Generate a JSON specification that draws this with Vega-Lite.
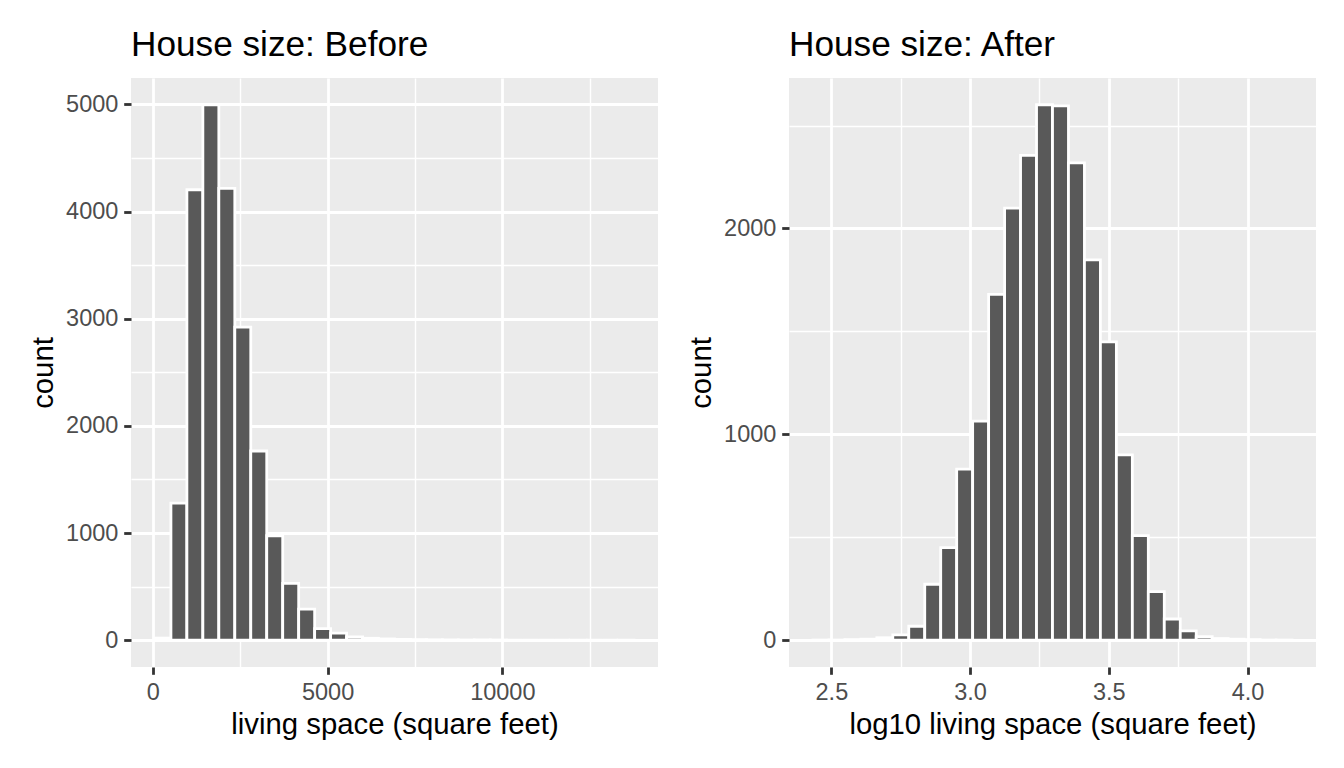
{
  "$schema": "https://vega.github.io/schema/vega-lite/v6.json",
  "background": "white",
  "padding": {"left": 29, "top": 27, "right": 5, "bottom": 5},
  "datasets": {
    "before": [
      {"bin_start": 61.55, "bin_end": 518.45, "count": 20},
      {"bin_start": 518.45, "bin_end": 975.34, "count": 1280},
      {"bin_start": 975.34, "bin_end": 1432.24, "count": 4204},
      {"bin_start": 1432.24, "bin_end": 1889.14, "count": 4997},
      {"bin_start": 1889.14, "bin_end": 2346.03, "count": 4216},
      {"bin_start": 2346.03, "bin_end": 2802.93, "count": 2922},
      {"bin_start": 2802.93, "bin_end": 3259.83, "count": 1766},
      {"bin_start": 3259.83, "bin_end": 3716.72, "count": 975},
      {"bin_start": 3716.72, "bin_end": 4173.62, "count": 530},
      {"bin_start": 4173.62, "bin_end": 4630.52, "count": 290},
      {"bin_start": 4630.52, "bin_end": 5087.41, "count": 108},
      {"bin_start": 5087.41, "bin_end": 5544.31, "count": 66},
      {"bin_start": 5544.31, "bin_end": 6001.21, "count": 30},
      {"bin_start": 6001.21, "bin_end": 6458.10, "count": 18},
      {"bin_start": 6458.10, "bin_end": 6915.00, "count": 12},
      {"bin_start": 6915.00, "bin_end": 7371.90, "count": 8},
      {"bin_start": 7371.90, "bin_end": 7828.79, "count": 6},
      {"bin_start": 7828.79, "bin_end": 8285.69, "count": 4},
      {"bin_start": 8285.69, "bin_end": 8742.59, "count": 3},
      {"bin_start": 8742.59, "bin_end": 9199.48, "count": 2},
      {"bin_start": 9199.48, "bin_end": 9656.38, "count": 3},
      {"bin_start": 9656.38, "bin_end": 10113.28, "count": 2},
      {"bin_start": 10113.28, "bin_end": 10570.17, "count": 0},
      {"bin_start": 10570.17, "bin_end": 11027.07, "count": 0},
      {"bin_start": 11027.07, "bin_end": 11483.97, "count": 0},
      {"bin_start": 11483.97, "bin_end": 11940.86, "count": 0},
      {"bin_start": 11940.86, "bin_end": 12397.76, "count": 1},
      {"bin_start": 12397.76, "bin_end": 12854.66, "count": 0},
      {"bin_start": 12854.66, "bin_end": 13311.55, "count": 0},
      {"bin_start": 13311.55, "bin_end": 13768.45, "count": 1}
    ],
    "after": [
      {"bin_start": 2.43362, "bin_end": 2.49118, "count": 1},
      {"bin_start": 2.49118, "bin_end": 2.54874, "count": 1},
      {"bin_start": 2.54874, "bin_end": 2.60630, "count": 3},
      {"bin_start": 2.60630, "bin_end": 2.66386, "count": 5},
      {"bin_start": 2.66386, "bin_end": 2.72141, "count": 12},
      {"bin_start": 2.72141, "bin_end": 2.77897, "count": 26},
      {"bin_start": 2.77897, "bin_end": 2.83653, "count": 68},
      {"bin_start": 2.83653, "bin_end": 2.89409, "count": 272},
      {"bin_start": 2.89409, "bin_end": 2.95165, "count": 450},
      {"bin_start": 2.95165, "bin_end": 3.00921, "count": 831},
      {"bin_start": 3.00921, "bin_end": 3.06677, "count": 1064},
      {"bin_start": 3.06677, "bin_end": 3.12433, "count": 1680},
      {"bin_start": 3.12433, "bin_end": 3.18189, "count": 2099},
      {"bin_start": 3.18189, "bin_end": 3.23945, "count": 2355},
      {"bin_start": 3.23945, "bin_end": 3.29701, "count": 2601},
      {"bin_start": 3.29701, "bin_end": 3.35456, "count": 2596},
      {"bin_start": 3.35456, "bin_end": 3.41212, "count": 2319},
      {"bin_start": 3.41212, "bin_end": 3.46968, "count": 1848},
      {"bin_start": 3.46968, "bin_end": 3.52724, "count": 1449},
      {"bin_start": 3.52724, "bin_end": 3.58480, "count": 900},
      {"bin_start": 3.58480, "bin_end": 3.64236, "count": 508},
      {"bin_start": 3.64236, "bin_end": 3.69992, "count": 236},
      {"bin_start": 3.69992, "bin_end": 3.75748, "count": 103},
      {"bin_start": 3.75748, "bin_end": 3.81504, "count": 45},
      {"bin_start": 3.81504, "bin_end": 3.87260, "count": 17},
      {"bin_start": 3.87260, "bin_end": 3.93016, "count": 8},
      {"bin_start": 3.93016, "bin_end": 3.98771, "count": 5},
      {"bin_start": 3.98771, "bin_end": 4.04527, "count": 3},
      {"bin_start": 4.04527, "bin_end": 4.10283, "count": 1},
      {"bin_start": 4.10283, "bin_end": 4.16039, "count": 1}
    ]
  },
  "hconcat": [
    {
      "width": 527,
      "height": 589,
      "title": {"text": "House size: Before"},
      "data": {"name": "before"},
      "mark": {"type": "rect", "fill": "#595959", "stroke": "white", "strokeWidth": 2.8},
      "encoding": {
        "x": {
          "field": "bin_start",
          "type": "quantitative",
          "title": "living space (square feet)",
          "scale": {"domain": [-623.8, 14453.8], "nice": false, "zero": false},
          "axis": {
            "values": [0, 2500, 5000, 7500, 10000, 12500],
            "format": "d",
            "labelExpr": "datum.value % 5000 === 0 ? datum.label : ''",
            "gridWidth": {"condition": {"test": "datum.value % 5000 === 0", "value": 2.8}, "value": 1.4},
            "tickOpacity": {"condition": {"test": "datum.value % 5000 === 0", "value": 1}, "value": 0}
          }
        },
        "x2": {"field": "bin_end"},
        "y": {
          "field": "count",
          "type": "quantitative",
          "title": "count",
          "scale": {"domain": [-249.85, 5246.85], "nice": false, "zero": false},
          "axis": {
            "values": [0, 500, 1000, 1500, 2000, 2500, 3000, 3500, 4000, 4500, 5000],
            "format": "d",
            "labelExpr": "datum.value % 1000 === 0 ? datum.label : ''",
            "gridWidth": {"condition": {"test": "datum.value % 1000 === 0", "value": 2.8}, "value": 1.4},
            "tickOpacity": {"condition": {"test": "datum.value % 1000 === 0", "value": 1}, "value": 0}
          }
        },
        "y2": {"datum": 0}
      }
    },
    {
      "width": 527,
      "height": 589,
      "title": {"text": "House size: After"},
      "data": {"name": "after"},
      "mark": {"type": "rect", "fill": "#595959", "stroke": "white", "strokeWidth": 2.8},
      "encoding": {
        "x": {
          "field": "bin_start",
          "type": "quantitative",
          "title": "log10 living space (square feet)",
          "scale": {"domain": [2.34728, 4.24673], "nice": false, "zero": false},
          "axis": {
            "values": [2.5, 2.75, 3, 3.25, 3.5, 3.75, 4],
            "format": ".1f",
            "labelExpr": "round(datum.value * 4) % 2 === 0 ? datum.label : ''",
            "gridWidth": {"condition": {"test": "round(datum.value * 4) % 2 === 0", "value": 2.8}, "value": 1.4},
            "tickOpacity": {"condition": {"test": "round(datum.value * 4) % 2 === 0", "value": 1}, "value": 0}
          }
        },
        "x2": {"field": "bin_end"},
        "y": {
          "field": "count",
          "type": "quantitative",
          "title": "count",
          "scale": {"domain": [-130.05, 2731.05], "nice": false, "zero": false},
          "axis": {
            "values": [0, 500, 1000, 1500, 2000, 2500],
            "format": "d",
            "labelExpr": "datum.value % 1000 === 0 ? datum.label : ''",
            "gridWidth": {"condition": {"test": "datum.value % 1000 === 0", "value": 2.8}, "value": 1.4},
            "tickOpacity": {"condition": {"test": "datum.value % 1000 === 0", "value": 1}, "value": 0}
          }
        },
        "y2": {"datum": 0}
      }
    }
  ],
  "spacing": 131,
  "bounds": "flush",
  "config": {
    "view": {"fill": "#EBEBEB", "stroke": null},
    "axis": {
      "domain": false,
      "gridColor": "white",
      "gridOpacity": 1,
      "tickColor": "#333333",
      "tickSize": 7.3,
      "tickWidth": 2.8,
      "labelColor": "#4D4D4D",
      "labelFont": "Liberation Sans",
      "labelFontSize": 23.5,
      "labelPadding": 5.8,
      "labelOverlap": false,
      "titleFont": "Liberation Sans",
      "titleFontSize": 29.3,
      "titleFontWeight": "normal",
      "titleColor": "black",
      "titlePadding": 7.3
    },
    "title": {
      "anchor": "start",
      "frame": "group",
      "font": "Liberation Sans",
      "fontSize": 35.2,
      "fontWeight": "normal",
      "color": "black",
      "baseline": "alphabetic",
      "offset": 15
    }
  }
}
